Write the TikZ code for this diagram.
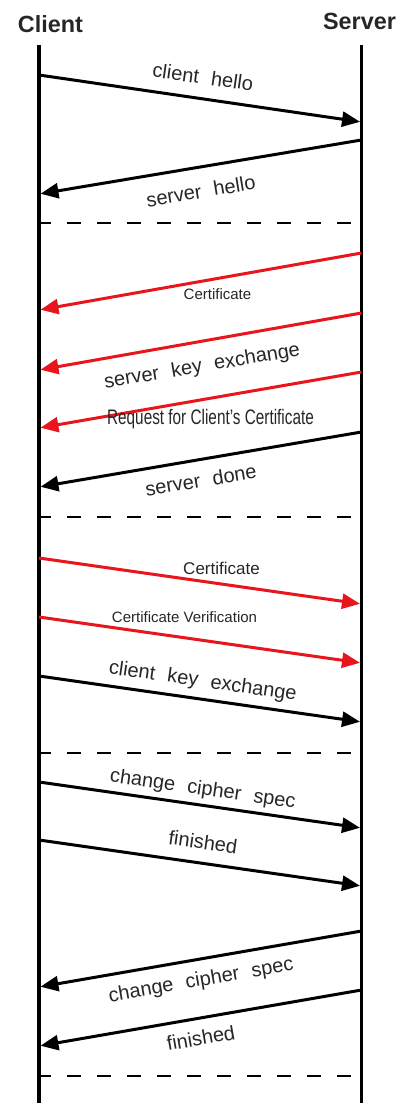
\documentclass[tikz,border=0pt]{standalone}
\usepackage{fontspec}
\setmainfont{Liberation Sans}
\usetikzlibrary{arrows.meta}
\definecolor{msgred}{RGB}{232,22,28}
\definecolor{ink}{RGB}{38,38,38}
\newcommand{\wgap}{\hspace{0.62em}}

\begin{document}
\begin{tikzpicture}[x=1pt,y=-1pt,
  life/.style={line width=3.6pt, draw=black},
  msg/.style={line width=3pt, draw=black, -{Triangle[length=18pt,width=15pt]}, shorten >=1.5pt},
  redmsg/.style={msg, draw=msgred},
  sep/.style={line width=2.2pt, draw=black, dash pattern=on 14pt off 16pt, dash phase=2pt},
  title/.style={font=\fontsize{23.4}{28}\selectfont\bfseries, text=ink, anchor=base, inner sep=0pt},
  lbl/.style={font=\fontsize{20}{24}\selectfont, text=ink, anchor=base, inner sep=0pt},
  smalllbl/.style={lbl, font=\fontsize{15}{18}\selectfont},
]
\useasboundingbox (0,0) rectangle (400,1103);

% lifelines and their titles
\coordinate (ctop) at (39,45);    \coordinate (cbot) at (39,1103);
\coordinate (stop) at (361.5,45); \coordinate (sbot) at (361.5,1103);
\draw[life] (ctop) -- (cbot);
\draw[life] (stop) -- (sbot);
\node[title] (client) at (50.5,32) {Client};
\node[title] (server) at (359.5,29) {Server};

% hello exchange
\coordinate (m1a) at (39,75);     \coordinate (m1b) at (361.5,122);
\draw[msg] (m1a) -- (m1b);
\node[lbl, rotate=-8.1] (t1) at (202,84) {client\wgap hello};

\coordinate (m2a) at (361.5,140); \coordinate (m2b) at (39,194);
\draw[msg] (m2a) -- (m2b);
\node[lbl, rotate=9.5] (t2) at (202,198) {server\wgap hello};

\coordinate (d1a) at (39,223);    \coordinate (d1b) at (357,223);
\draw[sep] (d1a) -- (d1b);

% server side messages
\coordinate (m3a) at (361.5,253); \coordinate (m3b) at (39,310);
\draw[redmsg] (m3a) -- (m3b);
\node[smalllbl] (t3) at (217.5,299) {Certificate};

\coordinate (m4a) at (361.5,313); \coordinate (m4b) at (39,370);
\draw[redmsg] (m4a) -- (m4b);
\node[lbl, rotate=9.5] (t4) at (203,372) {server\wgap key\wgap exchange};

\coordinate (m5a) at (361.5,372); \coordinate (m5b) at (39,428);
\draw[redmsg] (m5a) -- (m5b);
\node[lbl, font=\fontsize{21}{25}\selectfont, xscale=0.73] (t5) at (210.5,424) {Request for Client's Certificate};

\coordinate (m6a) at (361.5,432); \coordinate (m6b) at (39,487);
\draw[msg] (m6a) -- (m6b);
\node[lbl, rotate=9.5] (t6) at (202,487) {server\wgap done};

\coordinate (d2a) at (39,517);    \coordinate (d2b) at (357,517);
\draw[sep] (d2a) -- (d2b);

% client side messages
\coordinate (m7a) at (39,558);    \coordinate (m7b) at (361.5,604);
\draw[redmsg] (m7a) -- (m7b);
\node[lbl, font=\fontsize{17}{20}\selectfont] (t7) at (221.5,574) {Certificate};

\coordinate (m8a) at (39,617);    \coordinate (m8b) at (361.5,663);
\draw[redmsg] (m8a) -- (m8b);
\node[smalllbl] (t8) at (184.5,622) {Certificate Verification};

\coordinate (m9a) at (39,676);    \coordinate (m9b) at (361.5,722);
\draw[msg] (m9a) -- (m9b);
\node[lbl, rotate=-8.1] (t9) at (202,687) {client\wgap key\wgap exchange};

\coordinate (d3a) at (39,753);    \coordinate (d3b) at (357,753);
\draw[sep] (d3a) -- (d3b);

% cipher change, both directions
\coordinate (m10a) at (39,782);   \coordinate (m10b) at (361.5,828);
\draw[msg] (m10a) -- (m10b);
\node[lbl, rotate=-8.1] (t10) at (202,795) {change\wgap cipher\wgap spec};

\coordinate (m11a) at (39,840);   \coordinate (m11b) at (361.5,886);
\draw[msg] (m11a) -- (m11b);
\node[lbl, rotate=-8.1] (t11) at (202,849) {finished};

\coordinate (m12a) at (361.5,931); \coordinate (m12b) at (39,987);
\draw[msg] (m12a) -- (m12b);
\node[lbl, rotate=9.9] (t12) at (202,986) {change\wgap cipher\wgap spec};

\coordinate (m13a) at (361.5,990); \coordinate (m13b) at (39,1046);
\draw[msg] (m13a) -- (m13b);
\node[lbl, rotate=9.9] (t13) at (202,1045) {finished};

\coordinate (d4a) at (39,1076);   \coordinate (d4b) at (357,1076);
\draw[sep] (d4a) -- (d4b);
\end{tikzpicture}
\end{document}
